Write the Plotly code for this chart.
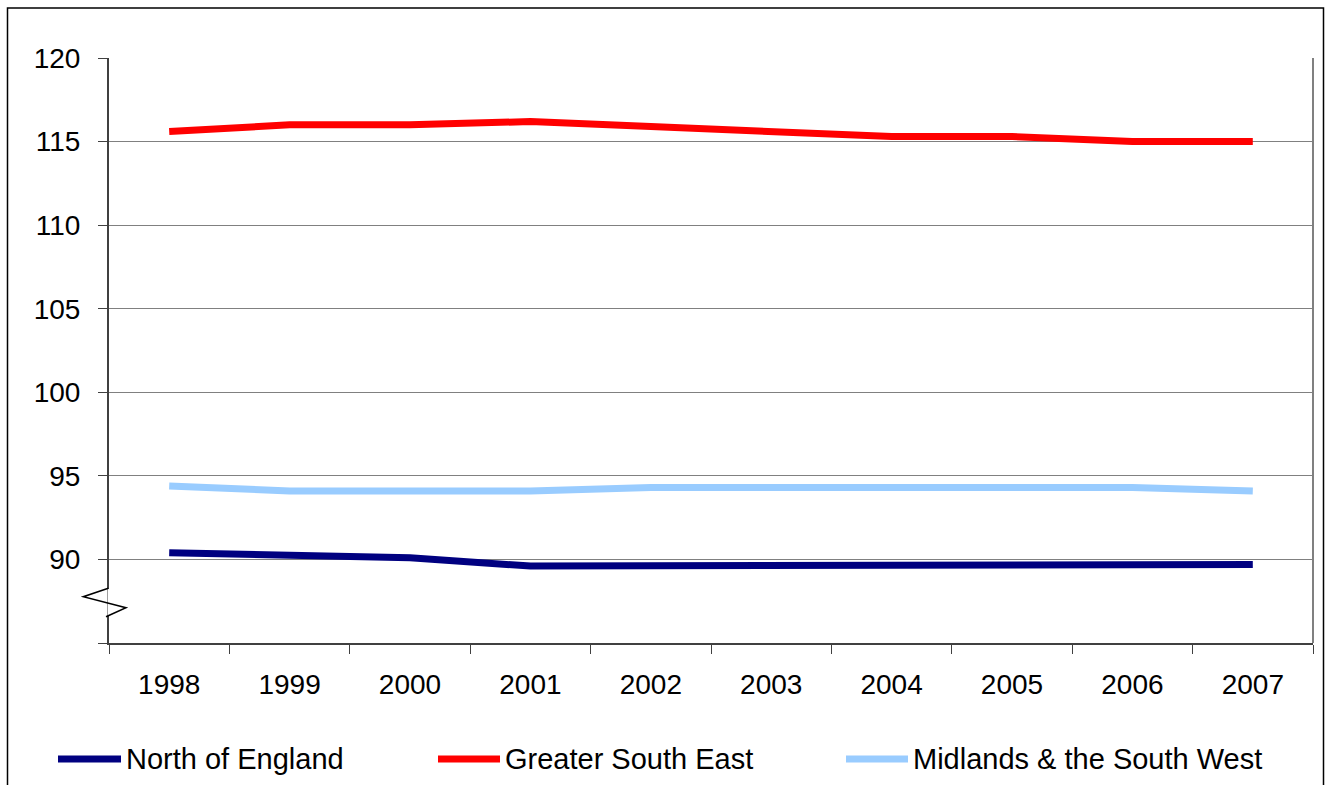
import plotly.graph_objects as go

years = ["1998", "1999", "2000", "2001", "2002", "2003", "2004", "2005", "2006", "2007"]
north = [90.4, 90.2, 90.1, 89.6, 89.6, 89.6, 89.6, 89.6, 89.7, 89.7]
gse = [115.6, 116.0, 116.0, 116.2, 115.9, 115.6, 115.3, 115.3, 115.0, 115.0]
midlands = [94.4, 94.1, 94.1, 94.1, 94.3, 94.3, 94.4, 94.3, 94.3, 94.1]
ytick_vals = [85, 90, 95, 100, 105, 110, 115, 120]
ytick_text = ["", "90", "95", "100", "105", "110", "115", "120"]

series = [
    ("North of England", north, "#000080"),
    ("Greater South East", gse, "#FF0000"),
    ("Midlands & the South West", midlands, "#99CCFF"),
]

W, H = 1325, 785
L, R, T, B = 109, 1313, 58, 643  # pixel positions of plot area
pw, ph = R - L, B - T

def px(x):
    return (x - L) / pw

def py(y):
    return (B - y) / ph

fig = go.Figure()
for name, vals, col in series:
    fig.add_trace(go.Scatter(x=years, y=vals, mode="lines", name=name,
                             line=dict(color=col, width=7), showlegend=False))

shapes = []
# outer frame
shapes.append(dict(type="rect", xref="paper", yref="paper", x0=px(7.5), x1=px(1323.5), y0=py(800), y1=py(8),
                   line=dict(color="#000000", width=1.5), layer="below"))
# right plot border
shapes.append(dict(type="line", xref="paper", yref="paper", x0=1, x1=1, y0=0, y1=1,
                   line=dict(color="#808080", width=2)))
# axis break: white gap then zigzag
shapes.append(dict(type="line", xref="paper", yref="paper", x0=px(109), x1=px(109), y0=py(589), y1=py(616),
                   line=dict(color="#FFFFFF", width=3)))
shapes.append(dict(type="path", xref="paper", yref="paper",
                   path=f"M {px(108.3)},{py(588.3)} L {px(83.3)},{py(596.7)} L {px(126)},{py(607.7)} L {px(106)},{py(616.7)}",
                   line=dict(color="#000000", width=1.5)))

annotations = []
leg = [(58, 121, 126), (438, 500, 505), (846, 908, 913)]
for (x0, x1, tx), (name, vals, col) in zip(leg, series):
    shapes.append(dict(type="line", xref="paper", yref="paper", x0=px(x0), x1=px(x1), y0=py(759), y1=py(759),
                       line=dict(color=col, width=7)))
    annotations.append(dict(xref="paper", yref="paper", x=px(tx - 2), y=py(759), text=name, showarrow=False,
                            xanchor="left", yanchor="middle", font=dict(size=29, color="#000000",
                            family="Liberation Sans, Arial, sans-serif")))

fig.update_layout(
    width=W, height=H,
    margin=dict(l=L, r=W - R, t=T, b=H - B, pad=0),
    paper_bgcolor="white", plot_bgcolor="white",
    font=dict(family="Liberation Sans, Arial, sans-serif", size=28, color="#000000"),
    shapes=shapes, annotations=annotations,
    xaxis=dict(type="category", tickson="boundaries", ticks="outside", ticklen=9, tickcolor="#404040",
               showline=True, linecolor="#404040", linewidth=2, showgrid=False,
               range=[-0.5, 9.5], ticklabelstandoff=15, zeroline=False),
    yaxis=dict(range=[85, 120], tickvals=ytick_vals, ticktext=ytick_text, ticks="outside", ticklen=9,
               tickcolor="#404040", showline=True, linecolor="#404040", linewidth=2,
               showgrid=True, gridcolor="#808080", gridwidth=1.3, zeroline=False,
               ticklabelstandoff=12),
)

fig.write_html("out.html", config={"displayModeBar": False},
               post_script="document.body.style.margin='0';document.body.style.overflow='hidden';")
